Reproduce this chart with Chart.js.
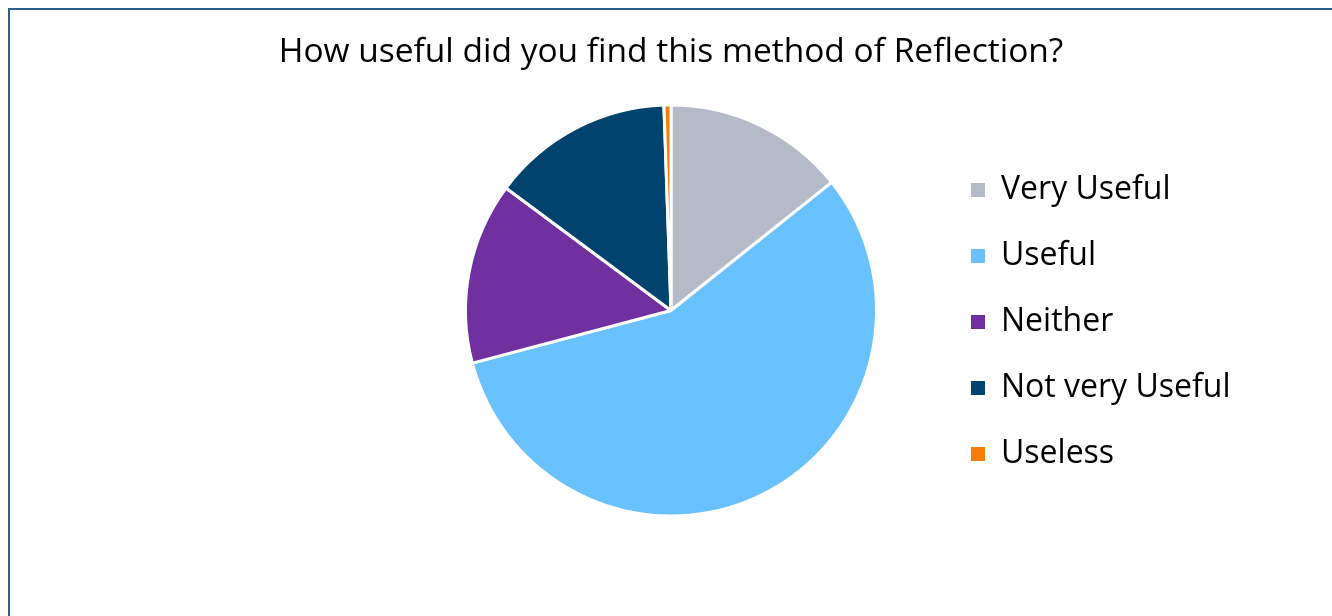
<!DOCTYPE html>
<html>
<head>
<meta charset="utf-8">
<script src="https://cdn.jsdelivr.net/npm/chart.js@4.4.0/dist/chart.umd.min.js"></script>
<style>
  html, body { margin: 0; padding: 0; background: #fff; overflow: hidden; }
  body { width: 1332px; height: 616px; position: relative; }
  #frame {
    position: absolute; left: 8px; top: 8px; width: 1340px; height: 640px;
    border-left: 2px solid #2a5f8f; border-top: 2px solid #2a5f8f;
  }
  #wrap { position: absolute; left: 10px; top: 10px; width: 1322px; height: 606px; }
</style>
</head>
<body>
<div id="frame"></div>
<div id="wrap"><canvas id="pie"></canvas></div>
<script>
  const categories = ["Very Useful", "Useful", "Neither", "Not very Useful", "Useless"];
  const responses = [26, 103, 26, 26, 1];
  const sliceColors = ["#b4bac7", "#69c2fe", "#7030a0", "#00436f", "#f57d0a"];
  const chartTitle = "How useful did you find this method of Reflection?";

  const fontFamily = "'Open Sans', 'Liberation Sans', Arial, sans-serif";
  const fontSize = 32;
  const titleSize = 33.5;
  const boxSize = 14;
  const rowGap = 34;

  Chart.defaults.font.family = fontFamily;
  Chart.defaults.color = "#000";

  function drawChart() {
    const ctx = document.getElementById("pie").getContext("2d");

    // ширина легенды считается так же, как в Chart.js, чтобы круг встал по центру под заголовком
    ctx.font = fontSize + "px " + fontFamily;
    const maxLabel = Math.max(...categories.map((c) => ctx.measureText(c).width));
    const legendWidth = rowGap + boxSize + fontSize / 2 + maxLabel + 10;
    const sidePad = 395 - legendWidth;

    new Chart(ctx, {
      type: "pie",
      data: {
        labels: categories,
        datasets: [
          {
            data: responses,
            backgroundColor: sliceColors,
            borderColor: "#fff",
            borderWidth: 3,
          },
        ],
      },
      options: {
        responsive: true,
        maintainAspectRatio: false,
        animation: false,
        layout: { padding: { left: sidePad, right: sidePad, top: 0, bottom: 98.5 } },
        plugins: {
          title: {
            display: true,
            text: chartTitle,
            font: { size: titleSize, weight: "normal" },
            padding: { top: 21.9, bottom: 31.4 },
          },
          // пустой блок слева, равный легенде справа
          subtitle: {
            display: true,
            position: "left",
            text: "",
            font: { size: 10 },
            padding: { top: legendWidth - 12, bottom: 0 },
          },
          legend: {
            position: "right",
            fullSize: false,
            maxWidth: 1000,
            title: { display: true, text: " ", font: { size: 10 }, padding: { top: 0, bottom: 11 } },
            labels: {
              boxWidth: boxSize,
              boxHeight: boxSize,
              padding: rowGap,
              font: { size: fontSize },
              generateLabels: (chart) =>
                Chart.overrides.pie.plugins.legend.labels
                  .generateLabels(chart)
                  .map((item) => ({ ...item, lineWidth: 0 })),
            },
          },
          tooltip: { enabled: false },
        },
      },
    });
  }

  document.fonts.load(fontSize + "px 'Open Sans'").then(drawChart, drawChart);
</script>
</body>
</html>
